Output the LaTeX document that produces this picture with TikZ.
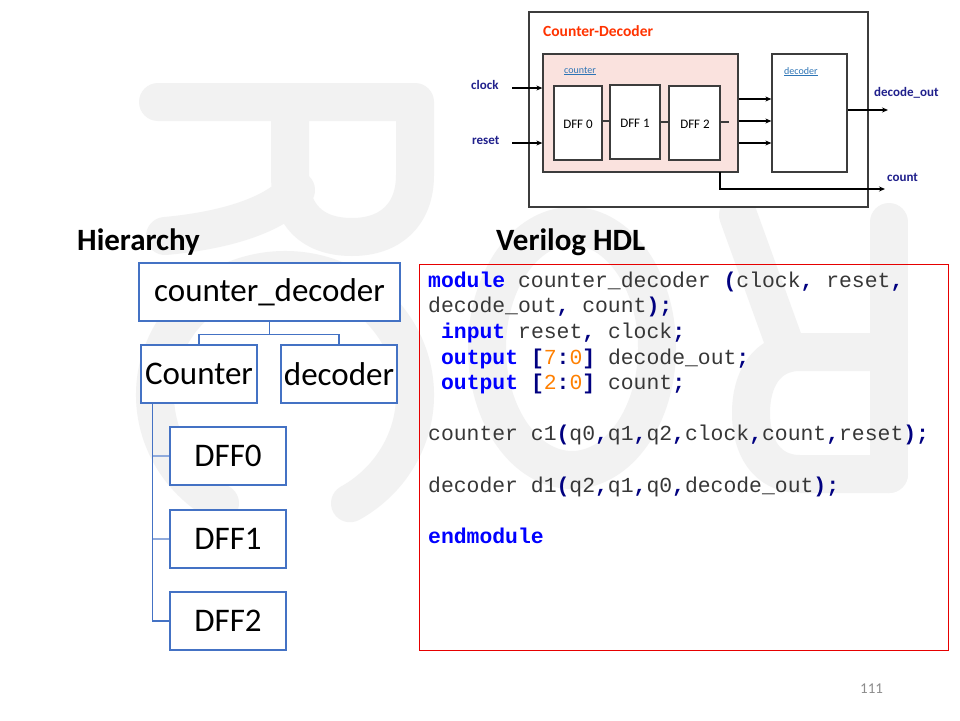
\documentclass[tikz,border=0pt]{standalone}
\usepackage{fontspec}
\setmainfont{Carlito}
\newfontfamily\codefont{Liberation Mono}
\usetikzlibrary{arrows.meta}
\definecolor{wmgray}{RGB}{242,242,242}
\definecolor{hblue}{RGB}{68,114,196}
\definecolor{hlight}{RGB}{143,170,220}
\definecolor{kwblue}{RGB}{0,0,255}
\definecolor{navyc}{RGB}{0,0,128}
\definecolor{numorange}{RGB}{255,128,0}
\definecolor{codetxt}{RGB}{55,55,55}
\definecolor{lblnavy}{RGB}{32,32,140}
\definecolor{titlered}{RGB}{255,51,0}
\definecolor{linkblue}{RGB}{46,117,182}
\definecolor{pinkfill}{RGB}{250,226,222}
\definecolor{diagline}{RGB}{60,60,60}
\definecolor{codered}{RGB}{230,0,0}
\newcommand\kwd[1]{\textcolor{kwblue}{\bfseries #1}}
\newcommand\pun[1]{\textcolor{navyc}{\bfseries #1}}
\newcommand\numo[1]{\textcolor{numorange}{#1}}
\tikzset{
  hbox/.style={draw=hblue, line width=1.2pt, fill=white, inner sep=0pt,
    font=\fontsize{33}{39}\selectfont},
  hconn/.style={draw=hblue, line width=1.1pt},
  htick/.style={draw=hlight, line width=2pt},
  dbox/.style={draw=diagline, line width=1.3pt, fill=white, inner sep=0pt,
    font=\fontsize{13}{15}\selectfont},
  dline/.style={draw=diagline, line width=1.2pt},
  darrow/.style={draw=black, line width=1.1pt, -{Stealth[length=6pt,width=5pt]}},
  plabel/.style={text=lblnavy, font=\bfseries\fontsize{13}{15}\selectfont, inner sep=0pt, anchor=base west},
  codeline/.style={anchor=base west, inner sep=0pt, text=codetxt,
    font=\codefont\fontsize{21.4}{25}\selectfont},
  heading/.style={anchor=base west, inner sep=0pt, font=\bfseries\fontsize{31}{36}\selectfont},
  wm/.style={draw=wmgray, line width=38pt, line cap=round, line join=round}
}
\begin{document}
\begin{tikzpicture}[x=1pt,y=-1pt]
\useasboundingbox (0,0) rectangle (960,720);
\fill[white] (0,0) rectangle (960,720);
% watermark
\draw[wm] (158,102) -- (415,102) -- (415,175) .. controls (415,215) and (390,237) .. (352,237)
  .. controls (312,237) and (290,215) .. (290,175) -- (290,102);
\draw[wm] (296,190) .. controls (270,220) and (210,232) .. (165,236);
\draw[wm] (285,395) ++(120:130 and 125) arc[start angle=120, end angle=420, x radius=130, y radius=125];
\draw[wm] (572,348) ellipse[x radius=85, y radius=122];
\draw[wm] (889,222) -- (889,474);
\draw[wm] (889,352) -- (800,352) .. controls (766,352) and (751,380) .. (751,413)
  .. controls (751,446) and (766,474) .. (800,474) -- (889,474);
\draw[wm] (738,215) -- (785,345);

% ---------- top block diagram ----------
\node[dbox, minimum width=339pt, minimum height=195pt] (outer) at (698.5,109.5) {};
\node[anchor=base west, inner sep=0pt, text=titlered, font=\bfseries\fontsize{15.5}{18}\selectfont] (title) at (543,36) {Counter-Decoder};
\node[dbox, fill=pinkfill, minimum width=195pt, minimum height=118pt] (ctr) at (640.5,113) {};
\node[dbox, minimum width=75pt, minimum height=118pt] (decb) at (809.5,113) {};
\node[anchor=base west, inner sep=0pt, text=linkblue, font=\fontsize{10}{12}\selectfont] (ctrlbl) at (564,73) {\underline{counter}};
\node[anchor=base west, inner sep=0pt, text=linkblue, font=\fontsize{10}{12}\selectfont] (declbl) at (784,74) {\underline{decoder}};
\node[dbox, minimum width=48pt, minimum height=74pt] (d0) at (578,123) {};
\node[dbox, minimum width=50pt, minimum height=74pt] (d1) at (635,122) {};
\node[dbox, minimum width=51pt, minimum height=74pt] (d2) at (694.5,123) {};
\node[anchor=base, inner sep=0pt, font=\fontsize{13}{15}\selectfont] (t0) at (578,128) {DFF 0};
\node[anchor=base, inner sep=0pt, font=\fontsize{13}{15}\selectfont] (t1) at (635,127) {DFF 1};
\node[anchor=base, inner sep=0pt, font=\fontsize{13}{15}\selectfont] (t2) at (695,128.5) {DFF 2};
\draw[dline] (d0.east |- 0,121) -- (d1.west |- 0,121);
\draw[dline] (d1.east |- 0,122) -- (d2.west |- 0,122);
\coordinate (stub) at (729,122);
\draw[dline] (d2.east |- stub) -- (stub);
\foreach \yy in {99,121,143} {
  \draw[darrow] (ctr.east |- 0,\yy) -- (decb.west |- 0,\yy);
}
\node[plabel] (clk) at (471,89) {clock};
\node[plabel] (rst) at (472,144) {reset};
\node[plabel] (dout) at (874,96) {decode\_out};
\node[plabel] (cnt) at (887,181) {count};
\coordinate (clkin) at (512,88);
\coordinate (rstin) at (512,143);
\draw[darrow] (clkin) -- (ctr.west |- clkin);
\draw[darrow] (rstin) -- (ctr.west |- rstin);
\coordinate (doutend) at (888,110);
\draw[darrow] (decb.east |- doutend) -- (doutend);
\coordinate (cntend) at (885,189);
\coordinate (cntstart) at (720,172);
\draw[darrow] (cntstart) |- (cntend);

% ---------- headings ----------
\node[heading] (hier) at (77,250) {Hierarchy};
\node[heading] (vhdl) at (496,250) {Verilog HDL};

% ---------- hierarchy ----------
\node[hbox, minimum width=261pt, minimum height=58pt] (cd) at (269.5,292) {counter\_decoder};
\node[hbox, minimum width=116pt, minimum height=58pt] (hc) at (199,374) {Counter};
\node[hbox, minimum width=116pt, minimum height=58pt] (hd) at (339,374) {decoder};
\node[hbox, minimum width=116pt, minimum height=58pt] (f0) at (228,456) {DFF0};
\node[hbox, minimum width=116pt, minimum height=58pt] (f1) at (228,539) {DFF1};
\node[hbox, minimum width=116pt, minimum height=58pt] (f2) at (228,621) {DFF2};
\draw[hconn] (cd.south) -- ++(0,13) coordinate (mid) -| (hc.north);
\draw[hconn] (mid) -| (hd.north);
\coordinate (v0) at ([xshift=12pt]hc.south west);
\draw[htick] (v0 |- f0.west) -- (f0.west);
\draw[htick] (v0 |- f1.west) -- (f1.west);
\draw[hconn] (v0) |- (f2.west);

% ---------- code ----------
\node[draw=codered, line width=1pt, minimum width=529pt, minimum height=386pt, inner sep=0pt] (codebox) at (683.5,457) {};
\node[codeline] (l1) at (428,287) {\kwd{module} counter\_decoder \pun{(}clock\pun{,} reset\pun{,}};
\node[codeline] (l2) at (428,312.7) {decode\_out\pun{,} count\pun{);}};
\node[codeline] (l3) at (440.9,338.3) {\kwd{input} reset\pun{,} clock\pun{;}};
\node[codeline] (l4) at (440.9,364) {\kwd{output} \pun{[}\numo{7}\pun{:}\numo{0}\pun{]} decode\_out\pun{;}};
\node[codeline] (l5) at (440.9,389.6) {\kwd{output} \pun{[}\numo{2}\pun{:}\numo{0}\pun{]} count\pun{;}};
\node[codeline] (l7) at (428,440.9) {counter c1\pun{(}q0\pun{,}q1\pun{,}q2\pun{,}clock\pun{,}count\pun{,}reset\pun{);}};
\node[codeline] (l9) at (428,492.2) {decoder d1\pun{(}q2\pun{,}q1\pun{,}q0\pun{,}decode\_out\pun{);}};
\node[codeline] (l11) at (428,543.5) {\kwd{endmodule}};

% page number
\node[anchor=base west, inner sep=0pt, text={rgb,255:red,140;green,140;blue,140}, font=\fontsize{15}{18}\selectfont] (pg) at (860,693) {111};
\end{tikzpicture}
\end{document}
